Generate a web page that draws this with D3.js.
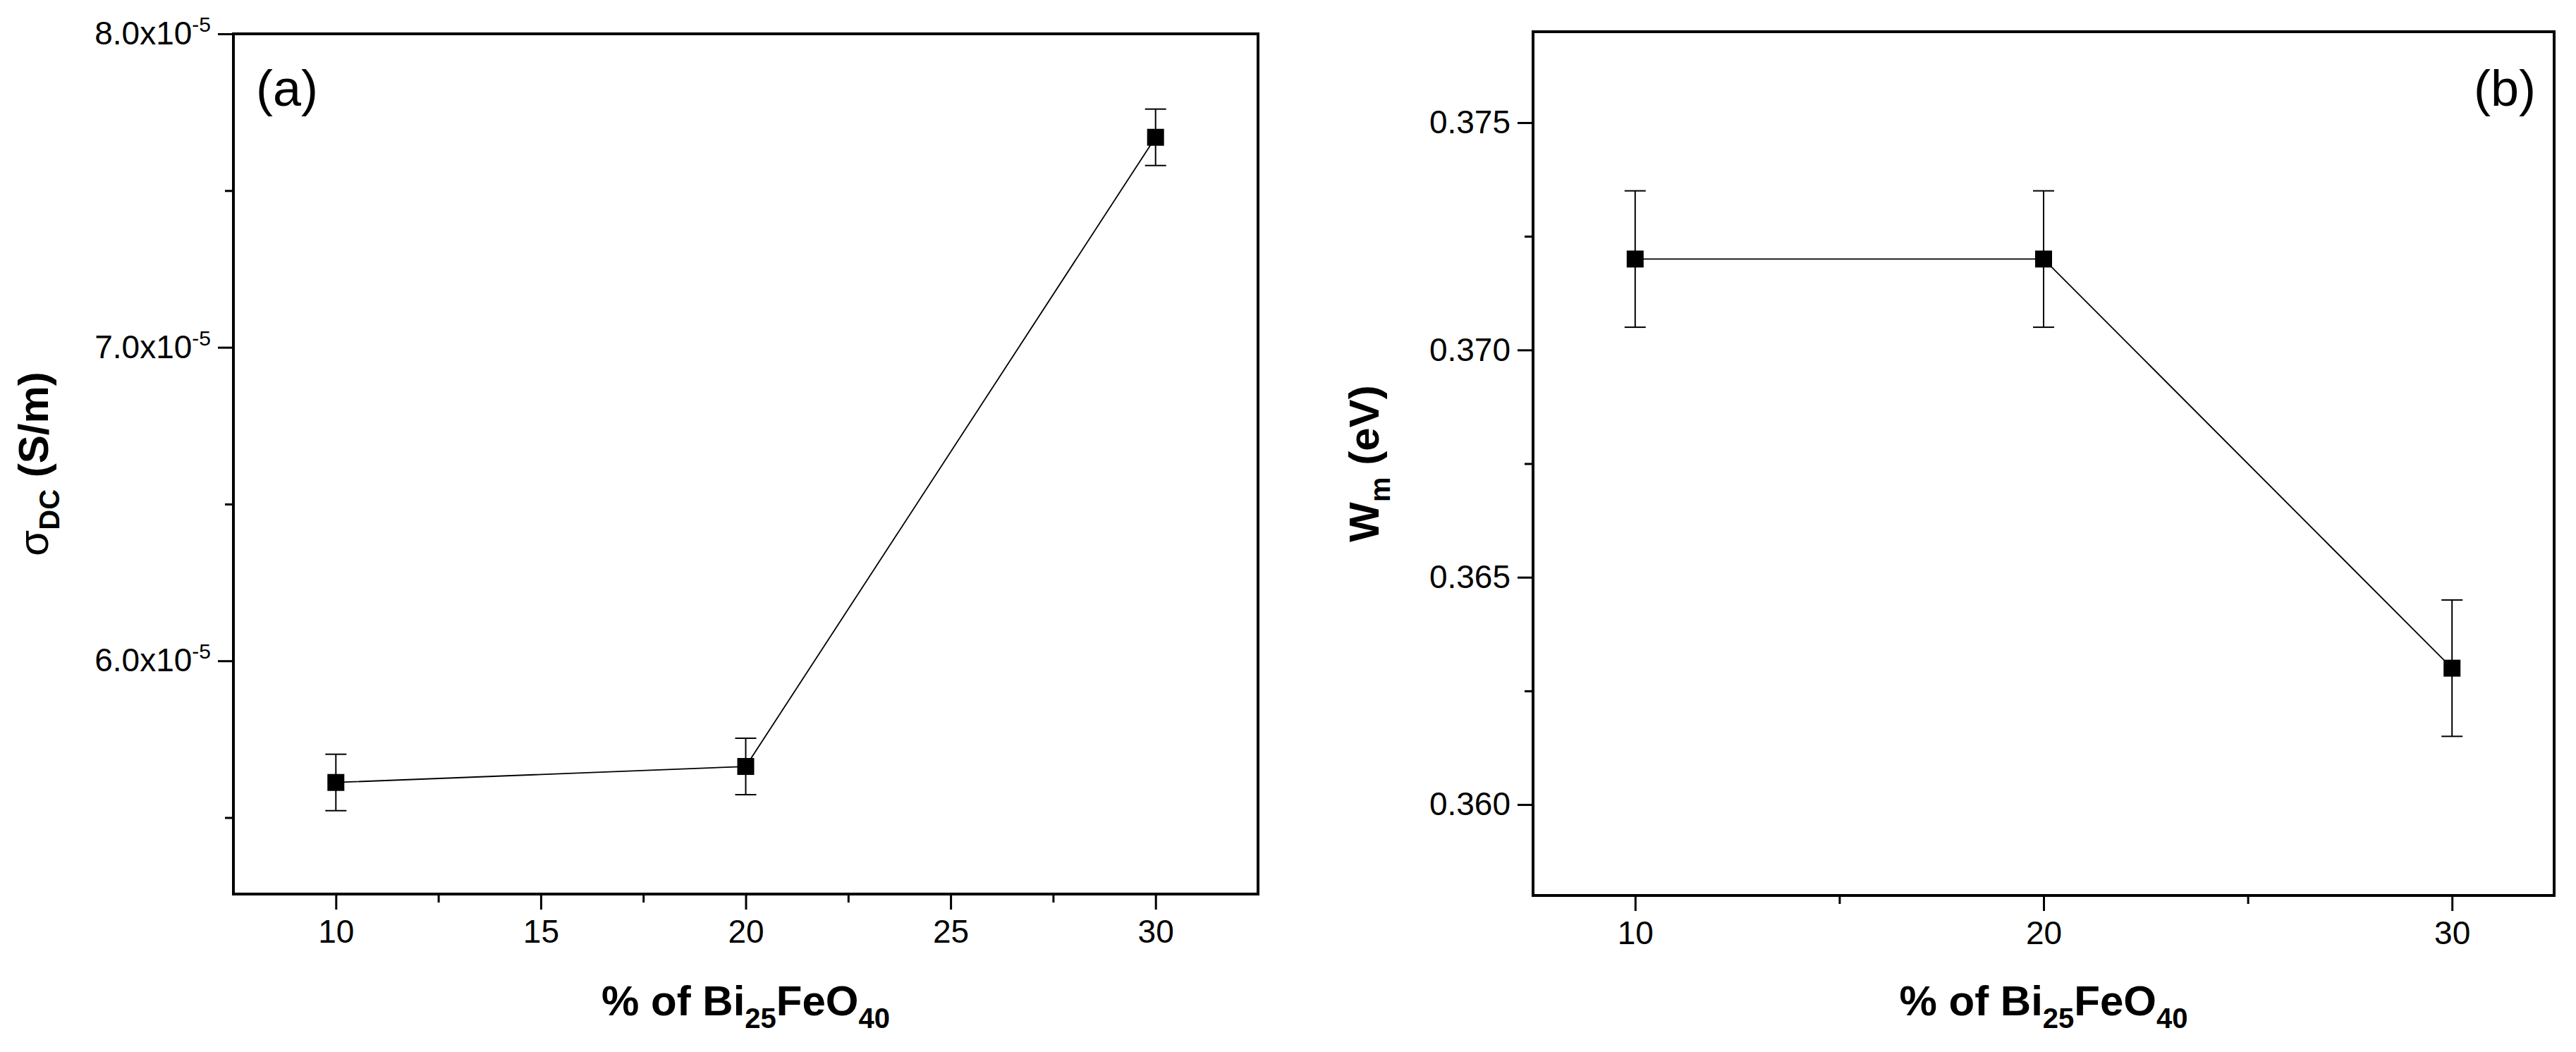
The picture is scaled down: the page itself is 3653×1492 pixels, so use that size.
<!DOCTYPE html>
<html><head><meta charset="utf-8">
<script src="https://cdn.jsdelivr.net/npm/d3@7"></script>
<style>body{margin:0;background:#fff}svg{display:block;font-family:"Liberation Sans",Arial,sans-serif}</style>
</head><body><svg id="c" width="3653" height="1492"></svg>
<script>
const xA = [10, 20, 30];
const sigmaDC = [5.612e-5, 5.663e-5, 7.67e-5];
const sigmaErr = [0.09e-5, 0.09e-5, 0.09e-5];
const xB = [10, 20, 30];
const Wm = [0.372, 0.372, 0.363];
const WmErr = [0.0015, 0.0015, 0.0015];
const ticksA_y = [6e-5, 7e-5, 8e-5];
const ticksA_x = [10, 15, 20, 25, 30];
const ticksB_y = [0.360, 0.365, 0.370, 0.375];
const ticksB_x = [10, 20, 30];

const svg = d3.select("#c");

function panel(o){
  const g = svg.append("g");
  const x = d3.scaleLinear().domain(o.xd).range([o.l, o.r]);
  const y = d3.scaleLinear().domain(o.yd).range([o.b, o.t]);
  // box
  g.append("rect").attr("x",o.l).attr("y",o.t).attr("width",o.r-o.l).attr("height",o.b-o.t)
    .attr("fill","none").attr("stroke","#000").attr("stroke-width",4);
  // x axis
  const xa = g.append("g").attr("transform",`translate(0,${o.b})`)
    .call(d3.axisBottom(x).tickValues(o.xMinor).tickSize(12).tickFormat(""));
  const xb = g.append("g").attr("transform",`translate(0,${o.b})`)
    .call(d3.axisBottom(x).tickValues(o.xt).tickSize(22).tickPadding(14).tickFormat(d3.format("d")));
  const ya = g.append("g").attr("transform",`translate(${o.l},0)`)
    .call(d3.axisLeft(y).tickValues(o.yMinor).tickSize(12).tickFormat(""));
  const yb = g.append("g").attr("transform",`translate(${o.l},0)`)
    .call(d3.axisLeft(y).tickValues(o.yt).tickSize(22).tickPadding(10).tickFormat(o.yfmt?null:d3.format(".3f")));
  [xa,xb,ya,yb].forEach(a=>{a.select(".domain").remove();a.selectAll("line").attr("stroke-width",3);
    a.selectAll("text").attr("font-size",46).attr("fill","#000");});
  if(o.yfmt){
    yb.selectAll("text").text(null).each(function(d){
      const t=d3.select(this);
      t.append("tspan").text((d*1e5).toFixed(1)+"x10");
      t.append("tspan").attr("dy",-18).attr("font-size",30).text("-5");
    });
  }
  // line
  const pts = o.xs.map((v,i)=>[v,o.ys[i],o.es[i]]);
  g.append("path").datum(pts).attr("fill","none").attr("stroke","#000").attr("stroke-width",1.8)
    .attr("d",d3.line().x(d=>x(d[0])).y(d=>y(d[1])));
  const eb = g.selectAll(".eb").data(pts).enter().append("g");
  eb.append("line").attr("x1",d=>x(d[0])).attr("x2",d=>x(d[0])).attr("y1",d=>y(d[1]-d[2])).attr("y2",d=>y(d[1]+d[2]))
    .attr("stroke","#000").attr("stroke-width",2);
  [-1,1].forEach(s=>eb.append("line").attr("x1",d=>x(d[0])-15).attr("x2",d=>x(d[0])+15)
    .attr("y1",d=>y(d[1]+s*d[2])).attr("y2",d=>y(d[1]+s*d[2])).attr("stroke","#000").attr("stroke-width",2));
  eb.append("rect").attr("x",d=>x(d[0])-12).attr("y",d=>y(d[1])-12).attr("width",24).attr("height",24).attr("fill","#000");
  // x title
  const xt = g.append("text").attr("x",(o.l+o.r)/2).attr("y",1440).attr("text-anchor","middle")
    .attr("font-size",60).attr("font-weight","bold");
  xt.append("tspan").text("% of Bi");
  xt.append("tspan").attr("dy",18).attr("font-size",40).text("25");
  xt.append("tspan").attr("dy",-18).text("FeO");
  xt.append("tspan").attr("dy",18).attr("font-size",40).text("40");
  // y title
  const yt = g.append("text").attr("transform",`translate(${o.ytx},${(o.t+o.b)/2}) rotate(-90)`)
    .attr("text-anchor","middle").attr("font-size",60).attr("font-weight","bold");
  o.ytitle(yt);
  g.append("text").attr("x",o.labX).attr("y",150).attr("text-anchor",o.labA).attr("font-size",72).text(o.lab);
}

panel({l:331,r:1784,t:48,b:1268,xd:[7.5,32.5],yd:[5.256e-5,8e-5],
  xt:ticksA_x,xMinor:[12.5,17.5,22.5,27.5],yt:ticksA_y,yMinor:[5.5e-5,6.5e-5,7.5e-5],yfmt:true,
  xs:xA,ys:sigmaDC,es:sigmaErr,ytx:68,lab:"(a)",labX:363,labA:"start",
  ytitle:t=>{t.append("tspan").attr("font-weight","normal").text("σ");
    t.append("tspan").attr("dy",16).attr("font-size",40).text("DC");
    t.append("tspan").attr("dy",-16).text(" (S/m)");}});

panel({l:2174,r:3622,t:45,b:1270,xd:[7.5,32.5],yd:[0.358,0.377],
  xt:ticksB_x,xMinor:[15,25],yt:ticksB_y,yMinor:[0.3625,0.3675,0.3725],yfmt:false,
  xs:xB,ys:Wm,es:WmErr,ytx:1955,lab:"(b)",labX:3596,labA:"end",
  ytitle:t=>{t.append("tspan").text("W");
    t.append("tspan").attr("dy",16).attr("font-size",40).text("m");
    t.append("tspan").attr("dy",-16).text(" (eV)");}});
</script></body></html>
